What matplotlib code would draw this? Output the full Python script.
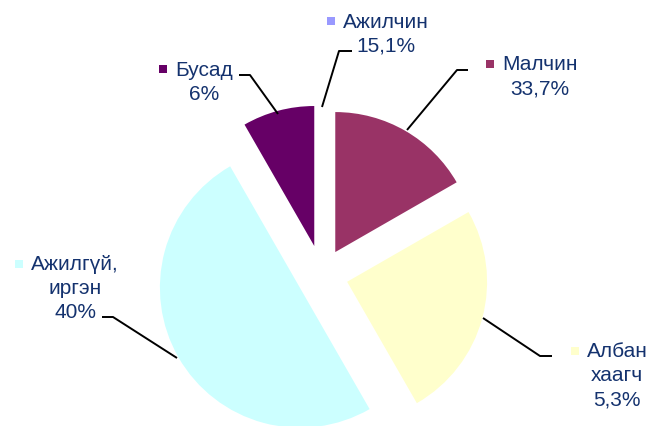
import matplotlib.pyplot as plt

# slice shares as drawn (label texts carry the printed percentages)
categories = ['Ажилчин', 'Малчин', 'Албан хаагч', 'Ажилгүй, иргэн', 'Бусад']
shares = [0, 16.7, 25.0, 50.0, 8.3]
label_lines = [
    ['Ажилчин', '15,1%'],
    ['Малчин', '33,7%'],
    ['Албан', 'хаагч', '5,3%'],
    ['Ажилгүй,', 'иргэн', '40%'],
    ['Бусад', '6%'],
]
colors = ['#9999FF', '#993366', '#FFFFCC', '#CCFFFF', '#660066']

W, H = 655, 427
text_color = '#14326E'

fig = plt.figure(figsize=(W / 100, H / 100), dpi=100)
ax = fig.add_axes([0, 0, 1, 1])

# pie in pixel units (y up)
ax.pie(shares, colors=colors, startangle=90, counterclock=False,
       explode=[26, 26.5, 26, 25.5, 30], radius=140, center=(322, H - 276),
       wedgeprops=dict(linewidth=0))
ax.set_xlim(0, W)
ax.set_ylim(0, H)
ax.set_aspect('equal')
ax.axis('off')

# label centre x, first line y (image px)
label_pos = [(386, 22), (540, 65), (617, 352), (75, 265), (204, 70)]
line_gap = 24

# leader lines (image px)
leaders = [
    [(352, 52), (339, 52), (322, 108)],
    [(468, 71), (457, 71), (407, 131)],
    [(552, 357), (540, 357), (483, 319)],
    [(102, 318), (113, 318), (177, 359)],
    [(239, 76), (250, 76), (278, 115)],
]
for pts in leaders:
    xs = [p[0] for p in pts]
    ys = [H - p[1] for p in pts]
    ax.plot(xs, ys, color='black', lw=1.4, solid_capstyle='butt')

fig.canvas.draw()
renderer = fig.canvas.get_renderer()
for lines, (cx, cy), col in zip(label_lines, label_pos, colors):
    first = None
    for i, s in enumerate(lines):
        t = ax.text(cx, H - (cy + i * line_gap), s, ha='center', va='center',
                    fontsize=15, color=text_color, family=['Liberation Sans', 'DejaVu Sans'])
        if i == 0:
            first = t
    bb = first.get_window_extent(renderer)
    ax.scatter([bb.x0 - 12], [H - cy], marker='s', s=36, color=col, linewidths=0)

fig.savefig('out.png', dpi=100)
